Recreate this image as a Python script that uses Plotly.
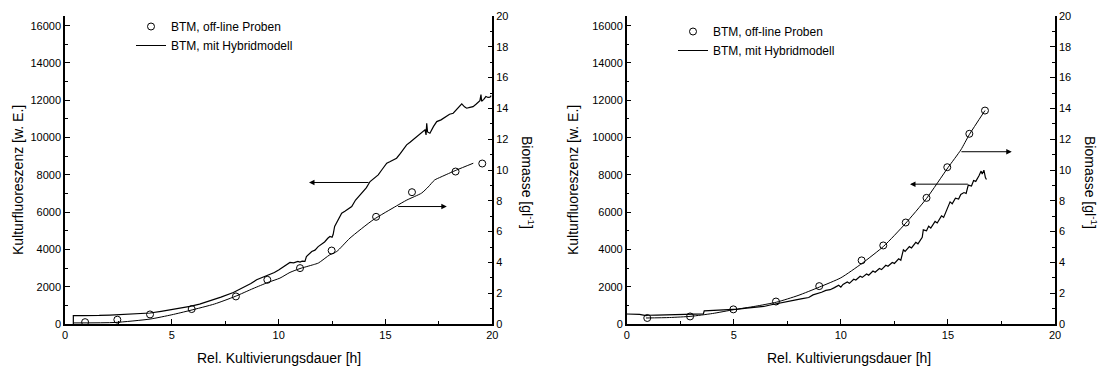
import plotly.graph_objects as go

FONT = "Liberation Sans, Arial, sans-serif"

# ---------------- Left panel data ----------------
L_fluo_t = [0.39, 0.39, 0.8, 1.2, 1.6, 2.1, 2.6, 3.2, 3.6, 3.98, 4.5, 5.0, 5.4, 5.85, 6.3, 6.8, 7.3, 7.88,
            8.3, 8.7, 8.97, 9.2, 9.4, 9.6, 9.8, 10.0, 10.2, 10.35, 10.53, 10.7, 10.9, 11.0, 11.1, 11.23,
            11.3, 11.55, 11.7, 11.85, 12.01, 12.15, 12.3, 12.4, 12.5, 12.55, 12.62, 12.75, 12.95, 13.1,
            13.25, 13.42, 13.6, 13.8, 13.95, 14.1, 14.28, 14.45, 14.66, 14.85, 15.06, 15.2, 15.35, 15.52,
            15.7, 15.85, 15.99, 16.15, 16.3, 16.46, 16.65, 16.85, 16.9, 16.93, 16.97, 17.08, 17.25, 17.4,
            17.6, 17.75, 17.87, 18.0, 18.17, 18.35, 18.5, 18.57, 18.7, 18.8, 18.95, 19.1, 19.25, 19.42,
            19.47, 19.5, 19.6, 19.7, 19.8, 19.89, 19.95]
L_fluo_v = [0, 445, 450, 445, 460, 480, 500, 530, 560, 590, 680, 770, 840, 943, 1070, 1250, 1440, 1693,
            1930, 2170, 2374, 2480, 2590, 2650, 2760, 2900, 3050, 3150, 3300, 3280, 3360, 3320, 3370, 3354,
            3620, 3890, 3960, 4150, 4303, 4400, 4600, 4694, 4650, 4800, 5230, 5500, 5948, 6050,
            6150, 6300, 6650, 6928, 7150, 7300, 7641, 7800, 8000, 8300, 8626, 8700, 8800, 8895,
            9150, 9400, 9607, 9750, 9900, 10052, 10250, 10411, 10143, 10770, 10300, 10234, 10600, 10856,
            10950, 11050, 11124, 11250, 11306, 11550, 11700, 11805, 11650, 11574, 11620, 11660, 11800, 11981,
            12300, 11950, 12050, 12200, 12150, 12163, 12250]

L_model_t = [0.39, 2.34, 3.98, 5.0, 5.85, 7.0, 7.96, 8.8, 9.5, 10.06, 10.53, 11.0, 11.62, 11.86, 12.4,
             12.72, 13.34, 14.43, 15.52, 16.0, 16.69, 17.0, 17.3, 17.6, 18.33, 19.11]
L_model_v = [0.07, 0.1, 0.32, 0.6, 0.88, 1.3, 1.79, 2.3, 2.7, 2.98, 3.35, 3.6, 3.85, 3.96, 4.5,
             4.71, 5.58, 6.77, 7.67, 8.05, 8.5, 8.9, 9.35, 9.55, 10.0, 10.44]

L_samp_t = [0.94, 2.45, 3.98, 5.93, 8.0, 9.47, 11.0, 12.48, 14.56, 16.24, 18.28, 19.53]
L_samp_v = [0.12, 0.28, 0.62, 0.97, 1.79, 2.87, 3.63, 4.77, 6.96, 8.56, 9.9, 10.42]

# ---------------- Right panel data ----------------
R_fluo_t = [0.0, 0.3, 0.6, 0.9, 1.0, 1.4, 1.8, 2.2, 2.6, 3.0, 3.3, 3.58, 3.62, 4.0, 4.4, 4.8, 5.2, 5.6,
            6.0, 6.4, 6.7, 7.0, 7.3, 7.6, 7.9, 8.2, 8.5, 8.7, 8.9, 9.1, 9.3, 9.5, 9.7, 9.9, 10.0, 10.1,
            10.3, 10.4, 10.6, 10.7, 10.9, 11.0, 11.2, 11.3, 11.5, 11.6, 11.8, 11.9, 12.1, 12.2, 12.4,
            12.5, 12.7, 12.8, 12.92, 13.0, 13.2, 13.3, 13.5, 13.6, 13.8, 13.85, 14.0, 14.1, 14.2, 14.4,
            14.5, 14.7, 14.8, 14.95, 15.1, 15.2, 15.35, 15.5, 15.6, 15.75, 15.85, 15.95, 16.1, 16.2,
            16.3, 16.45, 16.55, 16.6, 16.68, 16.75, 16.8]
R_fluo_v = [536, 530, 515, 450, 470, 480, 490, 470, 500, 505, 500, 540, 700, 720, 760, 790, 800, 850,
            880, 940, 1020, 1080, 1130, 1200, 1290, 1360, 1420, 1560, 1620, 1700, 1800, 1840, 1950, 2080, 1980, 2120,
            2250, 2180, 2400, 2360, 2560, 2500, 2680, 2620, 2840, 2780, 2980, 2920, 3150, 3100, 3300,
            3250, 3500, 3420, 3980, 3900, 4150, 4080, 4380, 4300, 4650, 5050, 5000, 5250, 5150, 5500,
            5420, 5800, 5720, 6150, 6550, 6450, 6750, 6700, 6950, 7050, 7000, 7450, 7400, 7700,
            7650, 7950, 8200, 8050, 8250, 7850, 7750]

R_model_t = [0.9, 2.0, 3.0, 4.0, 5.0, 6.0, 7.0, 8.0, 9.0, 10.0, 11.0, 12.0, 13.0, 14.0, 15.0, 15.6, 16.0, 16.73]
R_model_v = [0.39, 0.42, 0.5, 0.68, 0.93, 1.15, 1.42, 1.85, 2.4, 3.0, 3.95, 5.05, 6.5, 8.15, 10.15, 11.3, 12.3, 13.86]

R_samp_t = [0.96, 2.96, 4.98, 6.97, 8.99, 10.97, 11.98, 13.03, 14.0, 14.97, 16.0, 16.73]
R_samp_v = [0.39, 0.49, 0.95, 1.46, 2.46, 4.13, 5.1, 6.59, 8.19, 10.18, 12.35, 13.86]

# ---------------- Labels ----------------
x_title = "Rel. Kultivierungsdauer [h]"
yl_title = "Kulturfluoreszenz [w. E.]"
yr_title = "Biomasse [gl<sup>-1</sup>]"
lab_samples = "BTM, off-line Proben"
lab_model = "BTM, mit Hybridmodell"

# ---------------- Layout geometry ----------------
ML, MR, MT, MB = 65, 44, 16, 43
W, H = 1099, 367
PW = W - ML - MR
PH = H - MT - MB
def px_x(p):
    return (p - ML) / PW
def px_y(p):
    return (H - MB - p) / PH

fig = go.Figure()

# Left panel
fig.add_trace(go.Scatter(x=L_fluo_t, y=L_fluo_v, mode="lines", line=dict(color="black", width=1.2),
                         xaxis="x", yaxis="y", showlegend=False))
fig.add_trace(go.Scatter(x=L_model_t, y=L_model_v, mode="lines", line=dict(color="black", width=1, shape="spline", smoothing=0.6),
                         xaxis="x", yaxis="y2", name=lab_model, legend="legend", legendrank=2))
fig.add_trace(go.Scatter(x=L_samp_t, y=L_samp_v, mode="markers",
                         marker=dict(symbol="circle-open", size=7, color="black", line=dict(width=1)),
                         xaxis="x", yaxis="y2", name=lab_samples, legend="legend", legendrank=1))

# Right panel
fig.add_trace(go.Scatter(x=R_fluo_t, y=R_fluo_v, mode="lines", line=dict(color="black", width=1.2),
                         xaxis="x2", yaxis="y3", showlegend=False))
fig.add_trace(go.Scatter(x=R_model_t, y=R_model_v, mode="lines", line=dict(color="black", width=1, shape="spline", smoothing=0.6),
                         xaxis="x2", yaxis="y4", name=lab_model, legend="legend2", legendrank=2))
fig.add_trace(go.Scatter(x=R_samp_t, y=R_samp_v, mode="markers",
                         marker=dict(symbol="circle-open", size=7, color="black", line=dict(width=1)),
                         xaxis="x2", yaxis="y4", name=lab_samples, legend="legend2", legendrank=1))

tickfont = dict(family=FONT, size=11, color="black")
common_x = dict(range=[0, 20], dtick=5, tick0=0, ticks="inside", ticklen=5, tickwidth=1, tickcolor="black",
                minor=dict(dtick=2.5, ticks="inside", ticklen=3, tickcolor="black"),
                showline=True, linecolor="black", linewidth=1.5, showgrid=False, zeroline=False,
                tickfont=tickfont, automargin=False, fixedrange=True)
common_yl = dict(range=[0, 16520], dtick=2000, tick0=0, tickformat="d", ticks="inside", ticklen=5, tickwidth=1,
                 tickcolor="black",
                 minor=dict(dtick=1000, ticks="inside", ticklen=3, tickcolor="black"),
                 showline=True, linecolor="black", linewidth=1.5, showgrid=False, zeroline=False,
                 tickfont=tickfont, automargin=False, fixedrange=True)
common_yr = dict(range=[0, 20], dtick=2, tick0=0, ticks="inside", ticklen=5, tickwidth=1, tickcolor="black",
                 minor=dict(dtick=1, ticks="inside", ticklen=3, tickcolor="black"),
                 showline=True, linecolor="black", linewidth=1.5, showgrid=False, zeroline=False,
                 tickfont=tickfont, automargin=False, fixedrange=True, side="right")

left_dom = [0, px_x(492.3)]
right_dom = [px_x(626.7), 1]

fig.update_layout(
    width=W, height=H,
    margin=dict(l=ML, r=MR, t=MT, b=MB),
    paper_bgcolor="white", plot_bgcolor="white",
    font=dict(family=FONT, size=12, color="black"),
    xaxis=dict(domain=left_dom, anchor="y", **common_x),
    yaxis=dict(domain=[0, 1], anchor="x", **common_yl),
    yaxis2=dict(overlaying="y", anchor="x", **common_yr),
    xaxis2=dict(domain=right_dom, anchor="y3", **common_x),
    yaxis3=dict(domain=[0, 1], anchor="x2", **common_yl),
    yaxis4=dict(overlaying="y3", anchor="x2", **common_yr),
    legend=dict(x=px_x(131), y=px_y(12), xanchor="left", yanchor="top", bgcolor="rgba(0,0,0,0)",
                font=dict(family=FONT, size=12, color="black"), tracegroupgap=0, itemwidth=30),
    legend2=dict(x=px_x(673), y=px_y(17), xanchor="left", yanchor="top", bgcolor="rgba(0,0,0,0)",
                 font=dict(family=FONT, size=12, color="black"), tracegroupgap=0, itemwidth=30),
)

title_font = dict(family=FONT, size=14, color="black")
cm = dict(xref="paper", yref="paper", showarrow=False, xanchor="center", yanchor="middle", font=title_font)
ann = []
# axis titles
ann.append(dict(text=x_title, x=px_x(279), y=px_y(358), **cm))
ann.append(dict(text=x_title, x=px_x(849), y=px_y(358), **cm))
ann.append(dict(text=yl_title, x=px_x(18), y=px_y(180), textangle=-90, **cm))
ann.append(dict(text=yl_title, x=px_x(573), y=px_y(180), textangle=-90, **cm))
ann.append(dict(text=yr_title, x=px_x(528), y=px_y(182), textangle=90, **cm))
ann.append(dict(text=yr_title, x=px_x(1091), y=px_y(182), textangle=90, **cm))

# arrows indicating which axis each curve belongs to
arrow = dict(showarrow=True, arrowhead=2, arrowsize=1.1, arrowwidth=1, arrowcolor="black", text="")
ann.append(dict(x=11.42, y=7590, ax=14.28, ay=7590, xref="x", yref="y", axref="x", ayref="y", **arrow))
ann.append(dict(x=17.87, y=6300, ax=15.52, ay=6300, xref="x", yref="y", axref="x", ayref="y", **arrow))
ann.append(dict(x=13.23, y=7500, ax=16.0, ay=7500, xref="x2", yref="y3", axref="x2", ayref="y3", **arrow))
ann.append(dict(x=17.98, y=9240, ax=15.56, ay=9240, xref="x2", yref="y3", axref="x2", ayref="y3", **arrow))

fig.update_layout(annotations=ann)

fig.write_html("out.html", include_plotlyjs=True, config={"displayModeBar": False})
